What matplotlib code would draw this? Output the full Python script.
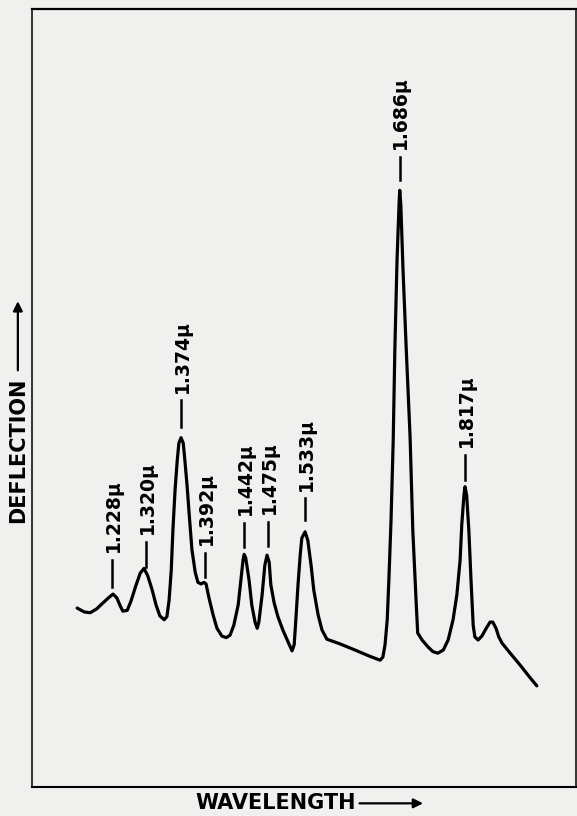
import numpy as np
import matplotlib
matplotlib.use('Agg')
import matplotlib.pyplot as plt

# trace of the recorder curve (arbitrary position units, 0-100 across the chart)
pos = [8.3, 9.6, 10.7, 11.9, 13.1, 14.2, 14.9, 15.6, 16.2, 16.7, 17.5, 18.2, 19.1, 19.9,
       20.6, 21.3, 22.1, 22.8, 23.5, 24.3, 24.8, 25.2, 25.6, 25.9, 26.3, 26.7, 27.0, 27.4,
       27.8, 28.1, 28.5, 28.9, 29.4, 30.0, 30.5, 31.1, 31.6, 32.0, 32.5, 33.3, 34.0, 34.9,
       35.7, 36.4, 37.1, 37.9, 38.4, 38.8, 39.0, 39.3, 39.9, 40.4, 41.0, 41.4, 41.7, 42.3,
       42.8, 43.2, 43.6, 43.9, 44.5, 45.2, 46.1, 47.1, 47.8, 48.2, 48.5, 48.9, 49.3, 49.6,
       50.2, 50.7, 51.3, 51.8, 52.6, 53.3, 54.2, 56.6, 59.4, 62.1, 64.0, 64.5, 64.9, 65.3,
       65.6, 66.0, 66.4, 66.7, 67.1, 67.5, 67.6, 67.8, 68.2, 68.8, 69.5, 70.0, 70.6, 70.9,
       71.7, 72.8, 73.7, 74.6, 75.6, 76.5, 77.4, 78.1, 78.7, 79.0, 79.4, 79.6, 79.9, 80.3,
       80.7, 81.1, 81.4, 82.0, 82.7, 83.5, 84.2, 84.7, 85.3, 85.8, 86.4, 87.9, 89.7, 91.5,
       92.8]
deflection = [23.0, 22.5, 22.4, 22.9, 23.7, 24.4, 24.8, 24.3, 23.3, 22.6, 22.7, 23.9, 25.9, 27.5,
              28.1, 27.1, 25.3, 23.4, 22.0, 21.5, 21.9, 24.0, 27.9, 33.0, 38.2, 42.0, 44.2, 44.9,
              44.2, 42.0, 38.8, 35.0, 30.5, 27.6, 26.3, 26.1, 26.3, 26.1, 24.4, 22.1, 20.4, 19.4,
              19.2, 19.5, 20.8, 23.4, 26.6, 29.2, 29.9, 29.4, 26.6, 23.4, 21.2, 20.4, 21.2, 24.7,
              28.5, 29.8, 28.9, 26.0, 23.7, 21.9, 20.2, 18.6, 17.5, 18.3, 21.5, 26.0, 29.8, 32.0,
              32.8, 31.7, 28.5, 25.3, 22.1, 20.2, 19.0, 18.4, 17.6, 16.8, 16.3, 16.7, 18.3, 21.5,
              26.6, 34.3, 44.6, 56.2, 67.7, 75.4, 76.7, 74.8, 66.5, 56.2, 45.0, 33.0, 24.0, 19.8,
              18.9, 18.0, 17.4, 17.2, 17.6, 18.9, 21.5, 24.7, 29.2, 33.7, 37.5, 38.6, 37.5, 33.0,
              26.6, 20.8, 19.3, 18.9, 19.4, 20.4, 21.2, 21.2, 20.4, 19.3, 18.5, 17.2, 15.7, 14.1,
              13.0]

# band labels: text, position of marker, marker bottom / top
band_labels = ['1.228\u03bc', '1.320\u03bc', '1.374\u03bc', '1.392\u03bc', '1.442\u03bc',
               '1.475\u03bc', '1.533\u03bc', '1.686\u03bc', '1.817\u03bc']
band_pos = [14.7, 21.0, 27.4, 31.8, 39.0, 43.4, 50.2, 67.6, 79.6]
mark_lo = [25.7, 28.3, 46.3, 27.0, 30.8, 31.0, 34.3, 78.0, 39.5]
mark_hi = [29.2, 31.5, 49.7, 30.1, 33.9, 34.1, 37.1, 81.0, 42.7]

paper = '#f0f0ee'
fig = plt.figure(figsize=(5.77, 8.16), dpi=100, facecolor=paper)
ax = fig.add_axes([32/577, 1 - 787/816, 544/577, 778/816])
ax.set_facecolor(paper)

ax.plot(pos, deflection, color='black', lw=2.3, solid_joinstyle='round', solid_capstyle='round')

for lab, x, lo, hi in zip(band_labels, band_pos, mark_lo, mark_hi):
    ax.plot([x, x], [lo, hi], color='black', lw=1.8)
    ax.text(x + 0.2, hi + 1.0, lab, rotation=90, rotation_mode='anchor',
            ha='left', va='center', fontsize=13.5, fontweight='bold')

ax.set_xlim(0, 100)
ax.set_ylim(0, 100)
ax.set_xticks([])
ax.set_yticks([])
for side, w in [('top', 1.6), ('bottom', 1.5), ('left', 1.1), ('right', 1.1)]:
    ax.spines[side].set_linewidth(w)

# axis captions with arrows
ax.text(-0.026, 0.433, 'DEFLECTION', transform=ax.transAxes, rotation=90,
        ha='center', va='center', fontsize=15, fontweight='bold', clip_on=False)
ax.annotate('', xy=(-0.026, 0.628), xytext=(-0.026, 0.532), xycoords='axes fraction',
            arrowprops=dict(arrowstyle='-|>', color='black', lw=1.6, mutation_scale=14))
ax.text(0.448, -0.021, 'WAVELENGTH', transform=ax.transAxes,
        ha='center', va='center', fontsize=15, fontweight='bold', clip_on=False)
ax.annotate('', xy=(0.724, -0.021), xytext=(0.597, -0.021), xycoords='axes fraction',
            arrowprops=dict(arrowstyle='-|>', color='black', lw=1.6, mutation_scale=14))

plt.savefig('out.png', dpi=100, facecolor=paper)
